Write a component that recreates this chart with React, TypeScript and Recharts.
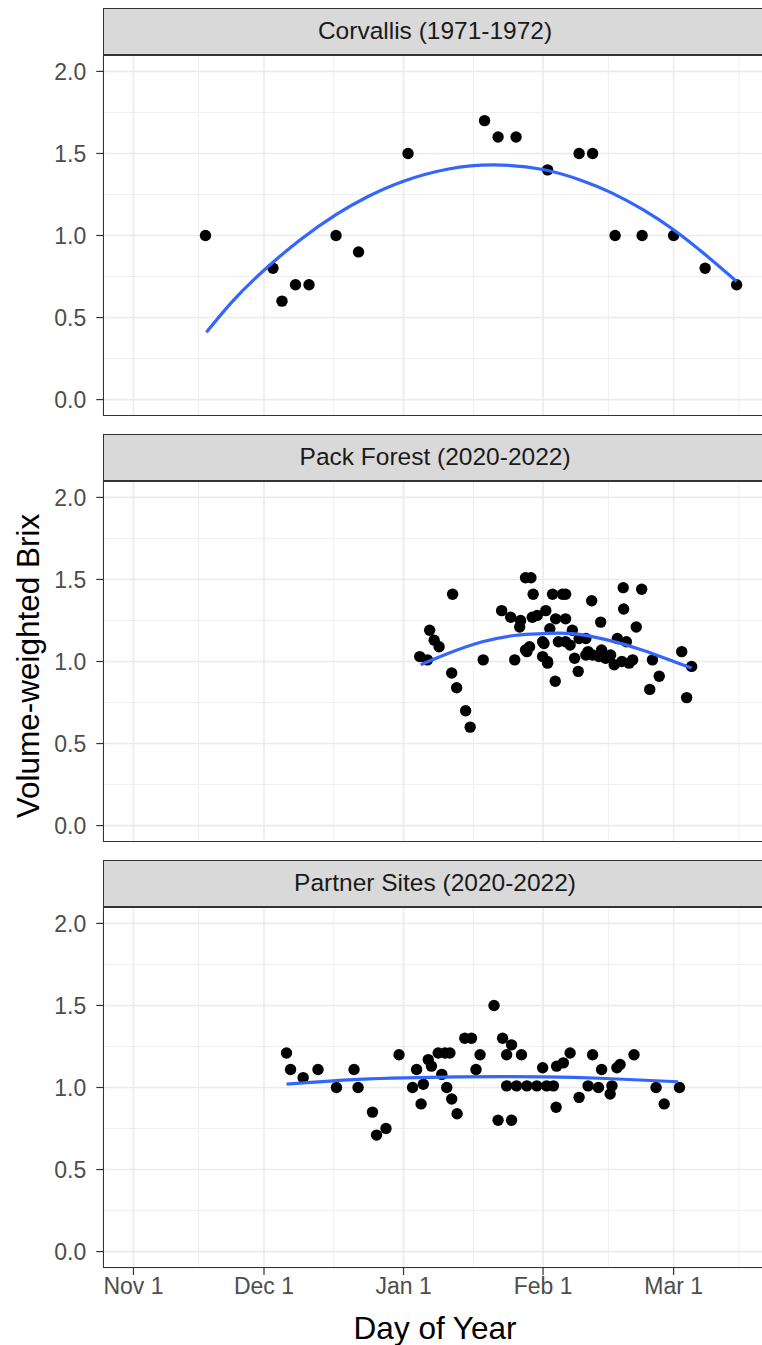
import React from "react";
import {
  ComposedChart,
  Scatter,
  Line,
  XAxis,
  YAxis,
  CartesianGrid,
} from "recharts";

// x is days counted from Nov 1
const monthTicks = [0, 29, 60, 91, 120];
const monthLabels = ["Nov 1", "Dec 1", "Jan 1", "Feb 1", "Mar 1"];
const minorDayTicks = [14.5, 44.5, 75.5, 105.5, 134.5];
const brixTicks = [0, 0.5, 1, 1.5, 2];
const minorBrixTicks = [0.25, 0.75, 1.25, 1.75];

const panelTitles = [
  "Corvallis (1971-1972)",
  "Pack Forest (2020-2022)",
  "Partner Sites (2020-2022)",
];

const corvallisPoints: [number, number][] = [
  [16, 1.0], [31, 0.8], [33, 0.6], [36, 0.7], [39, 0.7], [45, 1.0],
  [50, 0.9], [61, 1.5], [78, 1.7], [81, 1.6], [85, 1.6], [92, 1.4],
  [99, 1.5], [102, 1.5], [107, 1.0], [113, 1.0], [120, 1.0], [127, 0.8],
  [134, 0.7],
];

const corvallisFit: [number, number][] = [
  [16.2, 0.41], [22, 0.599], [29, 0.788], [37, 0.973], [45, 1.127],
  [52, 1.236], [60, 1.331], [70, 1.405], [80, 1.43], [91, 1.402],
  [100, 1.331], [106, 1.263], [113, 1.161], [120, 1.035], [127, 0.884],
  [134, 0.72],
];

const packForestPoints: [number, number][] = [
  [63.6, 1.03], [65.3, 1.01], [65.8, 1.19], [66.8, 1.13], [67.9, 1.09],
  [70.9, 1.41], [70.7, 0.93], [71.8, 0.84], [73.8, 0.7], [74.8, 0.6],
  [77.7, 1.01], [81.8, 1.31], [83.8, 1.27], [85.8, 1.21], [84.7, 1.01],
  [86, 1.25], [87.1, 1.07], [87.4, 1.06], [88, 1.09], [87.1, 1.51],
  [88.3, 1.51], [88.8, 1.41], [88.6, 1.27], [89.7, 1.28], [91.6, 1.31],
  [90.9, 1.12], [91.2, 1.11], [90.9, 1.03], [92, 0.99], [92, 1.0],
  [92.5, 1.2], [93.7, 0.88], [93.1, 1.41], [95.3, 1.41], [96, 1.41],
  [93.8, 1.26], [96, 1.26], [94.4, 1.12], [96, 1.12], [97, 1.1],
  [97.5, 1.19], [98, 1.02], [99, 1.14], [98.8, 0.94], [100.5, 1.04],
  [100.5, 1.14], [101, 1.06], [101.8, 1.37], [102, 1.04], [103.4, 1.03],
  [104, 1.07], [104.9, 1.02], [103.8, 1.24], [106, 1.04], [106.8, 0.98],
  [107.5, 1.14], [108.5, 1.0], [108.8, 1.45], [108.9, 1.32], [109.5, 1.12],
  [110.1, 0.99], [110.9, 1.01], [111.7, 1.21], [112.9, 1.44], [114.7, 0.83],
  [115.3, 1.01], [116.8, 0.91], [121.8, 1.06], [124, 0.97], [122.9, 0.78],
];

const packForestFit: [number, number][] = [
  [63.8, 0.98], [70, 1.05], [77.5, 1.12], [85, 1.16], [91, 1.17],
  [97.5, 1.17], [105.5, 1.13], [113, 1.07], [120, 1.0], [124, 0.96],
];

const partnerPoints: [number, number][] = [
  [34, 1.21], [34.9, 1.11], [37.7, 1.06], [41, 1.11], [45.1, 1.0],
  [49, 1.11], [49.9, 1.0], [53.1, 0.85], [54, 0.71], [56.1, 0.75],
  [59, 1.2], [62, 1.0], [62.9, 1.11], [63.9, 0.9], [64.4, 1.02],
  [65.5, 1.17], [66.2, 1.13], [67.7, 1.21], [69.2, 1.21], [70.3, 1.21],
  [68.5, 1.08], [69.6, 1.0], [70.7, 0.93], [71.9, 0.84], [73.6, 1.3],
  [75.1, 1.3], [76.1, 1.11], [77, 1.2], [80.1, 1.5], [81, 0.8],
  [82, 1.3], [82.9, 1.2], [84, 1.26], [84, 0.8], [86.2, 1.2],
  [82.9, 1.01], [85.1, 1.01], [87.4, 1.01], [89.6, 1.01], [91.8, 1.01],
  [93.3, 1.01], [90.9, 1.12], [93.9, 0.88], [94, 1.13], [95.5, 1.15],
  [97, 1.21], [99, 0.94], [101, 1.01], [103.3, 1.0], [102, 1.2],
  [104, 1.11], [105.9, 0.96], [106.3, 1.01], [107.4, 1.12], [108.1, 1.14],
  [111.2, 1.2], [116.1, 1.0], [117.9, 0.9], [121.3, 1.0],
];

const partnerFit: [number, number][] = [
  [34, 1.02], [50, 1.05], [72, 1.065], [91, 1.065], [105, 1.055], [121, 1.035],
];

const panelPoints = [corvallisPoints, packForestPoints, partnerPoints];
const panelFits = [corvallisFit, packForestFit, partnerFit];

const PLOT_LEFT = 103.3;
const PLOT_RIGHT = 766.8;
const CHART_W = 790;
const STRIP_H = 47;
const PANEL_H = 361;
const X_AXIS_H = 44;
const panelTops = [8, 433.5, 860];

const X_DOMAIN: [number, number] = [-6.7, 140.7];
const Y_DOMAIN: [number, number] = [-0.1, 2.1];

const FONT = '"Liberation Sans", Arial, Helvetica, sans-serif';
const TICK_FONT = 23;
const STRIP_FONT = 24.5;
const TITLE_FONT = 31.5;

const toRows = (pairs: [number, number][]) =>
  pairs.map(([day, brix]) => ({ day, brix }));

const Dot = (props: any) => (
  <circle cx={props.cx} cy={props.cy} r={5.7} fill="#000000" />
);

function Panel({ index }: { index: number }) {
  const top = panelTops[index];
  const showX = index === panelTops.length - 1;
  const points = toRows(panelPoints[index]);
  const fit = toRows(panelFits[index]);

  return (
    <>
      <div
        style={{
          position: "absolute",
          left: PLOT_LEFT,
          top,
          width: PLOT_RIGHT - PLOT_LEFT,
          height: STRIP_H,
          boxSizing: "border-box",
          background: "#D9D9D9",
          border: "1.3px solid #333333",
          color: "#1A1A1A",
          fontSize: STRIP_FONT,
          lineHeight: `${STRIP_H - 2.6}px`,
          textAlign: "center",
        }}
      >
        {panelTitles[index]}
      </div>
      <div style={{ position: "absolute", left: 0, top: top + STRIP_H }}>
        <ComposedChart
          width={CHART_W}
          height={PANEL_H + (showX ? X_AXIS_H : 0)}
          margin={{ top: 0, right: CHART_W - PLOT_RIGHT, bottom: 0, left: 0 }}
        >
          <XAxis
            xAxisId="minor"
            type="number"
            dataKey="day"
            domain={X_DOMAIN}
            ticks={minorDayTicks}
            allowDataOverflow
            hide
          />
          <YAxis
            yAxisId="minor"
            type="number"
            dataKey="brix"
            domain={Y_DOMAIN}
            ticks={minorBrixTicks}
            allowDataOverflow
            hide
          />
          <CartesianGrid
            xAxisId="minor"
            yAxisId="minor"
            stroke="#EFEFEF"
            strokeWidth={1}
          />
          <XAxis
            xAxisId="major"
            type="number"
            dataKey="day"
            domain={X_DOMAIN}
            ticks={monthTicks}
            allowDataOverflow
            hide={!showX}
            height={X_AXIS_H}
            axisLine={false}
            tickSize={7}
            tickMargin={3}
            tickLine={{ stroke: "#333333", strokeWidth: 1.2 }}
            tick={{ fill: "#4D4D4D", fontSize: TICK_FONT, fontFamily: FONT }}
            tickFormatter={(v: number) => monthLabels[monthTicks.indexOf(v)]}
          />
          <YAxis
            yAxisId="major"
            type="number"
            dataKey="brix"
            domain={Y_DOMAIN}
            ticks={brixTicks}
            allowDataOverflow
            width={PLOT_LEFT}
            axisLine={false}
            tickSize={7}
            tickMargin={10}
            tickLine={{ stroke: "#333333", strokeWidth: 1.2 }}
            tick={{ fill: "#4D4D4D", fontSize: TICK_FONT, fontFamily: FONT }}
            tickFormatter={(v: number) => v.toFixed(1)}
          />
          <CartesianGrid
            xAxisId="major"
            yAxisId="major"
            stroke="#EBEBEB"
            strokeWidth={1.6}
          />
          <Scatter
            xAxisId="major"
            yAxisId="major"
            data={points}
            dataKey="brix"
            shape={Dot}
            isAnimationActive={false}
          />
          <Line
            xAxisId="major"
            yAxisId="major"
            data={fit}
            dataKey="brix"
            type="natural"
            stroke="#3366FF"
            strokeWidth={3.2}
            dot={false}
            activeDot={false}
            isAnimationActive={false}
            {...({ zIndex: 700 } as any)}
          />
        </ComposedChart>
      </div>
      <div
        style={{
          position: "absolute",
          left: PLOT_LEFT,
          top: top + STRIP_H,
          width: CHART_W,
          height: PANEL_H,
          boxSizing: "border-box",
          border: "1.3px solid #333333",
          pointerEvents: "none",
        }}
      />
    </>
  );
}

export default function App() {
  return (
    <div
      style={{
        position: "absolute",
        left: 0,
        top: 0,
        width: 762,
        height: 1345,
        overflow: "hidden",
        background: "#FFFFFF",
        fontFamily: FONT,
      }}
    >
      {panelTitles.map((_, i) => (
        <Panel key={i} index={i} />
      ))}
      <div
        style={{
          position: "absolute",
          left: 28,
          top: 666,
          transform: "translate(-50%, -50%) rotate(-90deg)",
          whiteSpace: "nowrap",
          fontSize: TITLE_FONT,
          color: "#000000",
        }}
      >
        Volume-weighted Brix
      </div>
      <div
        style={{
          position: "absolute",
          left: (PLOT_LEFT + PLOT_RIGHT) / 2,
          top: 1328,
          transform: "translate(-50%, -50%)",
          whiteSpace: "nowrap",
          fontSize: TITLE_FONT,
          color: "#000000",
        }}
      >
        Day of Year
      </div>
    </div>
  );
}
